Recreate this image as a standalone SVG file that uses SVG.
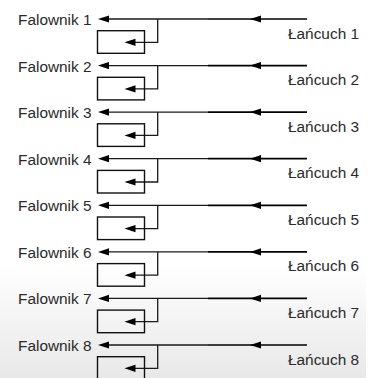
<svg xmlns="http://www.w3.org/2000/svg" xmlns:xlink="http://www.w3.org/1999/xlink" width="381" height="378" viewBox="0 0 381 378">
<defs>
<linearGradient id="bg" x1="0" y1="0" x2="0" y2="1">
<stop offset="0" stop-color="#ffffff"/>
<stop offset="1" stop-color="#e8e8e8"/>
</linearGradient>
<path id="ah" d="M0,0 L11,-3.6 L11,3.6 Z" fill="#000"/>
</defs>
<style>
text{font-family:"Liberation Sans",Arial,sans-serif;font-size:15.4px;fill:#2a2a2a}
.thin{stroke:#1a1a1a;stroke-width:1.3;fill:none}
.thick{stroke:#000;stroke-width:1.7;fill:none}
.box{stroke:#111;stroke-width:1.4;fill:none}
</style>
<rect width="381" height="378" fill="#fff"/>
<rect x="0" y="265" width="366" height="113" fill="url(#bg)"/>
<g id="connectors">
<path class="thick" d="M307,19 H208 M307,65.6 H208 M307,112.1 H208 M307,158.7 H208 M307,205.3 H208 M307,251.9 H208 M307,298.4 H208 M307,345 H208"/>
<path class="thin" d="M208,19 H106 M208,65.6 H106 M208,112.1 H106 M208,158.7 H106 M208,205.3 H106 M208,251.9 H106 M208,298.4 H106 M208,345 H106"/>
<path class="thin" d="M157.7,19 V42.3 H132 M157.7,65.6 V88.9 H132 M157.7,112.1 V135.4 H132 M157.7,158.7 V182 H132 M157.7,205.3 V228.6 H132 M157.7,251.9 V275.2 H132 M157.7,298.4 V321.7 H132 M157.7,345 V368.3 H132" stroke-width="1.4"/>
<use href="#ah" x="98" y="19"/><use href="#ah" x="250" y="19"/><use href="#ah" x="124.5" y="42.3"/>
<use href="#ah" x="98" y="65.6"/><use href="#ah" x="250" y="65.6"/><use href="#ah" x="124.5" y="88.9"/>
<use href="#ah" x="98" y="112.1"/><use href="#ah" x="250" y="112.1"/><use href="#ah" x="124.5" y="135.4"/>
<use href="#ah" x="98" y="158.7"/><use href="#ah" x="250" y="158.7"/><use href="#ah" x="124.5" y="182"/>
<use href="#ah" x="98" y="205.3"/><use href="#ah" x="250" y="205.3"/><use href="#ah" x="124.5" y="228.6"/>
<use href="#ah" x="98" y="251.9"/><use href="#ah" x="250" y="251.9"/><use href="#ah" x="124.5" y="275.2"/>
<use href="#ah" x="98" y="298.4"/><use href="#ah" x="250" y="298.4"/><use href="#ah" x="124.5" y="321.7"/>
<use href="#ah" x="98" y="345"/><use href="#ah" x="250" y="345"/><use href="#ah" x="124.5" y="368.3"/>
</g>
<g id="falownik-1"><text x="18" y="25">Falownik 1</text></g>
<g id="falownik-2"><text x="18" y="71.6">Falownik 2</text></g>
<g id="falownik-3"><text x="18" y="118.1">Falownik 3</text></g>
<g id="falownik-4"><text x="18" y="164.7">Falownik 4</text></g>
<g id="falownik-5"><text x="18" y="211.3">Falownik 5</text></g>
<g id="falownik-6"><text x="18" y="257.9">Falownik 6</text></g>
<g id="falownik-7"><text x="18" y="304.4">Falownik 7</text></g>
<g id="falownik-8"><text x="18" y="351">Falownik 8</text></g>
<g id="box-1"><rect class="box" x="97.5" y="30.7" width="47" height="22.6"/></g>
<g id="box-2"><rect class="box" x="97.5" y="77.3" width="47" height="22.6"/></g>
<g id="box-3"><rect class="box" x="97.5" y="123.8" width="47" height="22.6"/></g>
<g id="box-4"><rect class="box" x="97.5" y="170.4" width="47" height="22.6"/></g>
<g id="box-5"><rect class="box" x="97.5" y="217" width="47" height="22.6"/></g>
<g id="box-6"><rect class="box" x="97.5" y="263.6" width="47" height="22.6"/></g>
<g id="box-7"><rect class="box" x="97.5" y="310.1" width="47" height="22.6"/></g>
<g id="box-8"><rect class="box" x="97.5" y="356.7" width="47" height="22.6"/></g>
<g id="lancuch-1"><text x="288" y="38.5">Łańcuch 1</text></g>
<g id="lancuch-2"><text x="288" y="85.1">Łańcuch 2</text></g>
<g id="lancuch-3"><text x="288" y="131.6">Łańcuch 3</text></g>
<g id="lancuch-4"><text x="288" y="178.2">Łańcuch 4</text></g>
<g id="lancuch-5"><text x="288" y="224.8">Łańcuch 5</text></g>
<g id="lancuch-6"><text x="288" y="271.4">Łańcuch 6</text></g>
<g id="lancuch-7"><text x="288" y="317.9">Łańcuch 7</text></g>
<g id="lancuch-8"><text x="288" y="364.5">Łańcuch 8</text></g>
</svg>
